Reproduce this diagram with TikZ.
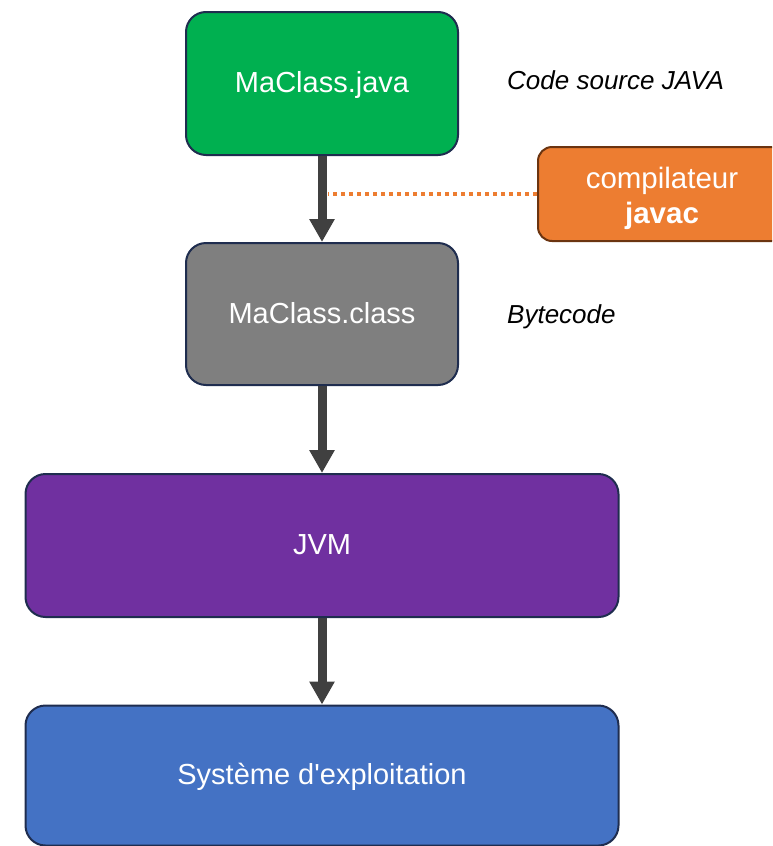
\documentclass[tikz,border=0pt]{standalone}
\usepackage{fontspec}
\setmainfont{Liberation Sans}
\usetikzlibrary{arrows.meta}
\definecolor{cgreen}{HTML}{00B050}
\definecolor{cgray}{HTML}{7F7F7F}
\definecolor{cpurple}{HTML}{7030A0}
\definecolor{cblue}{HTML}{4472C4}
\definecolor{corange}{HTML}{ED7D31}
\definecolor{cnavy}{HTML}{1F2D4F}
\definecolor{cbrown}{HTML}{6B3410}
\definecolor{carrow}{HTML}{404040}
\tikzset{
  box/.style={draw=cnavy, line width=2pt, rounded corners=20pt, text=white,
    font=\fontsize{29}{34}\selectfont, inner sep=0pt, text height=21pt, text depth=3pt},
  obox/.style={draw=cbrown, line width=2pt, rounded corners=14pt, fill=corange, text=white,
    font=\fontsize{29.5}{35}\selectfont, inner sep=0pt, align=center},
  flow/.style={draw=carrow, line width=9pt, -{Triangle[width=24pt,length=23pt]}},
  dots/.style={draw=corange, line width=3.5pt, dash pattern=on 4pt off 4pt},
  lbl/.style={font=\fontsize{26}{30}\selectfont\itshape, anchor=base west, inner sep=0pt}
}
\begin{document}
\begin{tikzpicture}[x=1pt,y=-1pt]
\useasboundingbox (0,0) rectangle (772,846);
\clip (0,0) rectangle (772,846);
\node[box, fill=cgreen, minimum width=272pt, minimum height=143pt] (java) at (322,83.5) {MaClass.java};
\node[box, fill=cgray, minimum width=272pt, minimum height=142pt] (class) at (322,314) {MaClass.class};
\node[box, fill=cpurple, minimum width=593pt, minimum height=143pt] (jvm) at (322,545.5) {JVM};
\node[box, fill=cblue, minimum width=593pt, minimum height=140pt] (os) at (322,775.5) {Système d\textquotesingle exploitation};
\node[obox, minimum width=260pt, minimum height=94pt, text width=250pt] (comp) at (668,194)
  {\hspace*{-12pt}\rule{0pt}{31pt}compilateur\\\hspace*{-12pt}\textbf{javac}};
\node[lbl] (src) at (507,89) {Code source JAVA};
\node[lbl] (bc) at (507,323) {Bytecode};
\coordinate (dotend) at (328,194);
\draw[flow] (java.south) -- (class.north);
\draw[flow] (class.south) -- (jvm.north);
\draw[flow] (jvm.south) -- (os.north);
\draw[dots] (comp.west) -- (dotend);
\end{tikzpicture}
\end{document}
